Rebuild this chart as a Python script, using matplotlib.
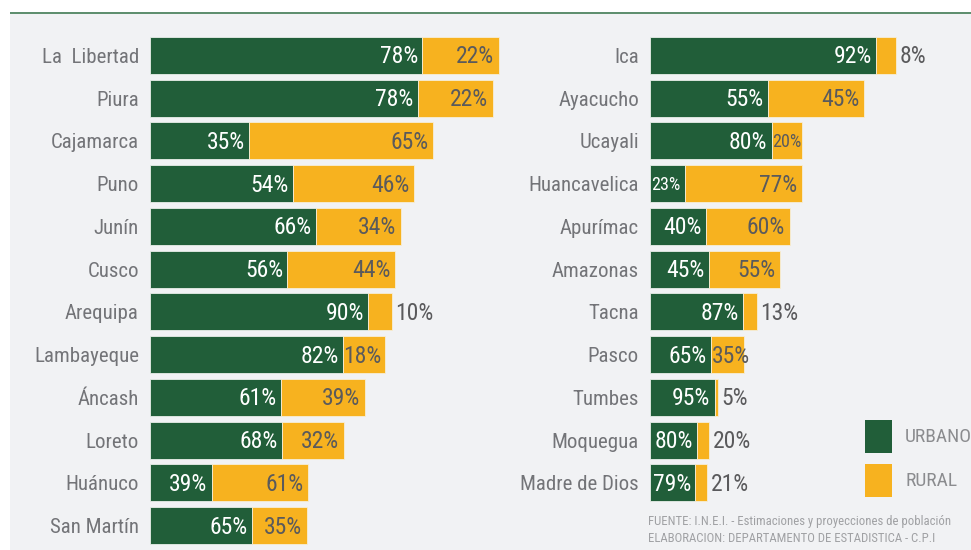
import matplotlib
matplotlib.use("Agg")
import matplotlib.pyplot as plt
from matplotlib.patches import Rectangle

plt.rcParams['font.family'] = ['Roboto Condensed', 'Archivo Narrow', 'DejaVu Sans']

# Datos (longitud total de barra en unidades relativas)
regiones_izq = ["La  Libertad", "Piura", "Cajamarca", "Puno", "Junín", "Cusco",
                "Arequipa", "Lambayeque", "Áncash", "Loreto", "Huánuco", "San Martín"]
total_izq = [349, 343, 283, 264, 251, 245, 242, 235, 215, 194, 158, 157]
urbano_izq = [78, 78, 35, 54, 66, 56, 90, 82, 61, 68, 39, 65]

regiones_der = ["Ica", "Ayacucho", "Ucayali", "Huancavelica", "Apurímac", "Amazonas",
                "Tacna", "Pasco", "Tumbes", "Moquegua", "Madre de Dios"]
total_der = [246, 214, 152, 152, 140, 130, 107, 94, 68, 59, 57]
urbano_der = [92, 55, 80, 23, 40, 45, 87, 65, 95, 80, 79]

VERDE = "#215e39"
AMARILLO = "#f7b21f"
GRIS_TXT = "#737478"
GRIS_NUM = "#5a5a5c"
FONDO = "#f1f2f4"

fig = plt.figure(figsize=(9.71, 5.5), dpi=100)
fig.patch.set_facecolor("white")
W, H = 971, 550

# fondo gris y línea superior
fig.patches.append(Rectangle((10 / W, 0), 1, 1 - 14 / H, transform=fig.transFigure,
                             facecolor=FONDO, edgecolor="none", zorder=-10))
fig.patches.append(Rectangle((10 / W, 1 - 14 / H), 1, 2 / H, transform=fig.transFigure,
                             facecolor="#5f8f6f", edgecolor="none", zorder=-9))


def panel(x0, ancho, regiones, totales, urbanos):
    ax = fig.add_axes([x0 / W, 1 - 547 / H, ancho / W, 513 / H])
    ax.set_xlim(0, ancho)
    ax.set_ylim(11.5, -0.5)
    ax.patch.set_alpha(0)
    for s in ax.spines.values():
        s.set_visible(False)
    y = list(range(len(regiones)))
    urb = [t * u / 100 for t, u in zip(totales, urbanos)]
    rur = [t - u for t, u in zip(totales, urb)]
    ax.barh(y, urb, height=0.87, color=VERDE, edgecolor="#e8eee9", linewidth=0.6)
    ax.barh(y, rur, left=urb, height=0.87, color=AMARILLO, edgecolor="#f6eed8", linewidth=0.6)
    ax.set_yticks(y)
    ax.set_yticklabels(regiones, fontsize=15, color=GRIS_TXT)
    ax.tick_params(axis="y", length=0, pad=8)
    ax.set_xticks([])

    for i in y:
        pu = urbanos[i]
        pr = 100 - pu
        # etiqueta urbana
        fs = 17 if urb[i] >= 40 else 13
        ax.annotate(f"{pu}%", (urb[i], i), xytext=(-3, -1), textcoords="offset points",
                    ha="right", va="center", color="white", fontsize=fs)
        # etiqueta rural
        w = rur[i]
        if w >= 45:
            ax.annotate(f"{pr}%", (totales[i], i), xytext=(-3.5, -1), textcoords="offset points",
                        ha="right", va="center", color=GRIS_NUM, fontsize=17)
        elif w >= 32:
            ax.annotate(f"{pr}%", (urb[i], i), xytext=(0.5, -1), textcoords="offset points",
                        ha="left", va="center", color=GRIS_NUM, fontsize=17)
        elif w >= 28:
            ax.annotate(f"{pr}%", (urb[i], i), xytext=(0.5, -1), textcoords="offset points",
                        ha="left", va="center", color=GRIS_NUM, fontsize=13)
        else:
            ax.annotate(f"{pr}%", (totales[i], i), xytext=(2.5, -1), textcoords="offset points",
                        ha="left", va="center", color=GRIS_NUM, fontsize=17)
    return ax


panel(150, 350, regiones_izq, total_izq, urbano_izq)
panel(650, 310, regiones_der, total_der, urbano_der)

# leyenda
fig.patches.append(Rectangle((865 / W, 1 - 453 / H), 27 / W, 33 / H, transform=fig.transFigure,
                             facecolor=VERDE, edgecolor="none"))
fig.patches.append(Rectangle((865 / W, 1 - 497 / H), 27 / W, 33 / H, transform=fig.transFigure,
                             facecolor=AMARILLO, edgecolor="none"))
fig.text(905 / W, 1 - 437 / H, "URBANO", fontsize=14, color="#8b8c8f", va="center")
fig.text(905 / W, 1 - 481 / H, "RURAL", fontsize=14, color="#8b8c8f", va="center")

# fuente
fig.text(648 / W, 1 - 522 / H, "FUENTE: I.N.E.I. - Estimaciones y proyecciones de población",
         fontsize=9.2, color="#a0a1a4", va="center")
fig.text(648 / W, 1 - 538 / H, "ELABORACION: DEPARTAMENTO DE ESTADISTICA - C.P.I",
         fontsize=9.2, color="#a0a1a4", va="center")

fig.savefig("out.png", dpi=100, facecolor=fig.get_facecolor())
